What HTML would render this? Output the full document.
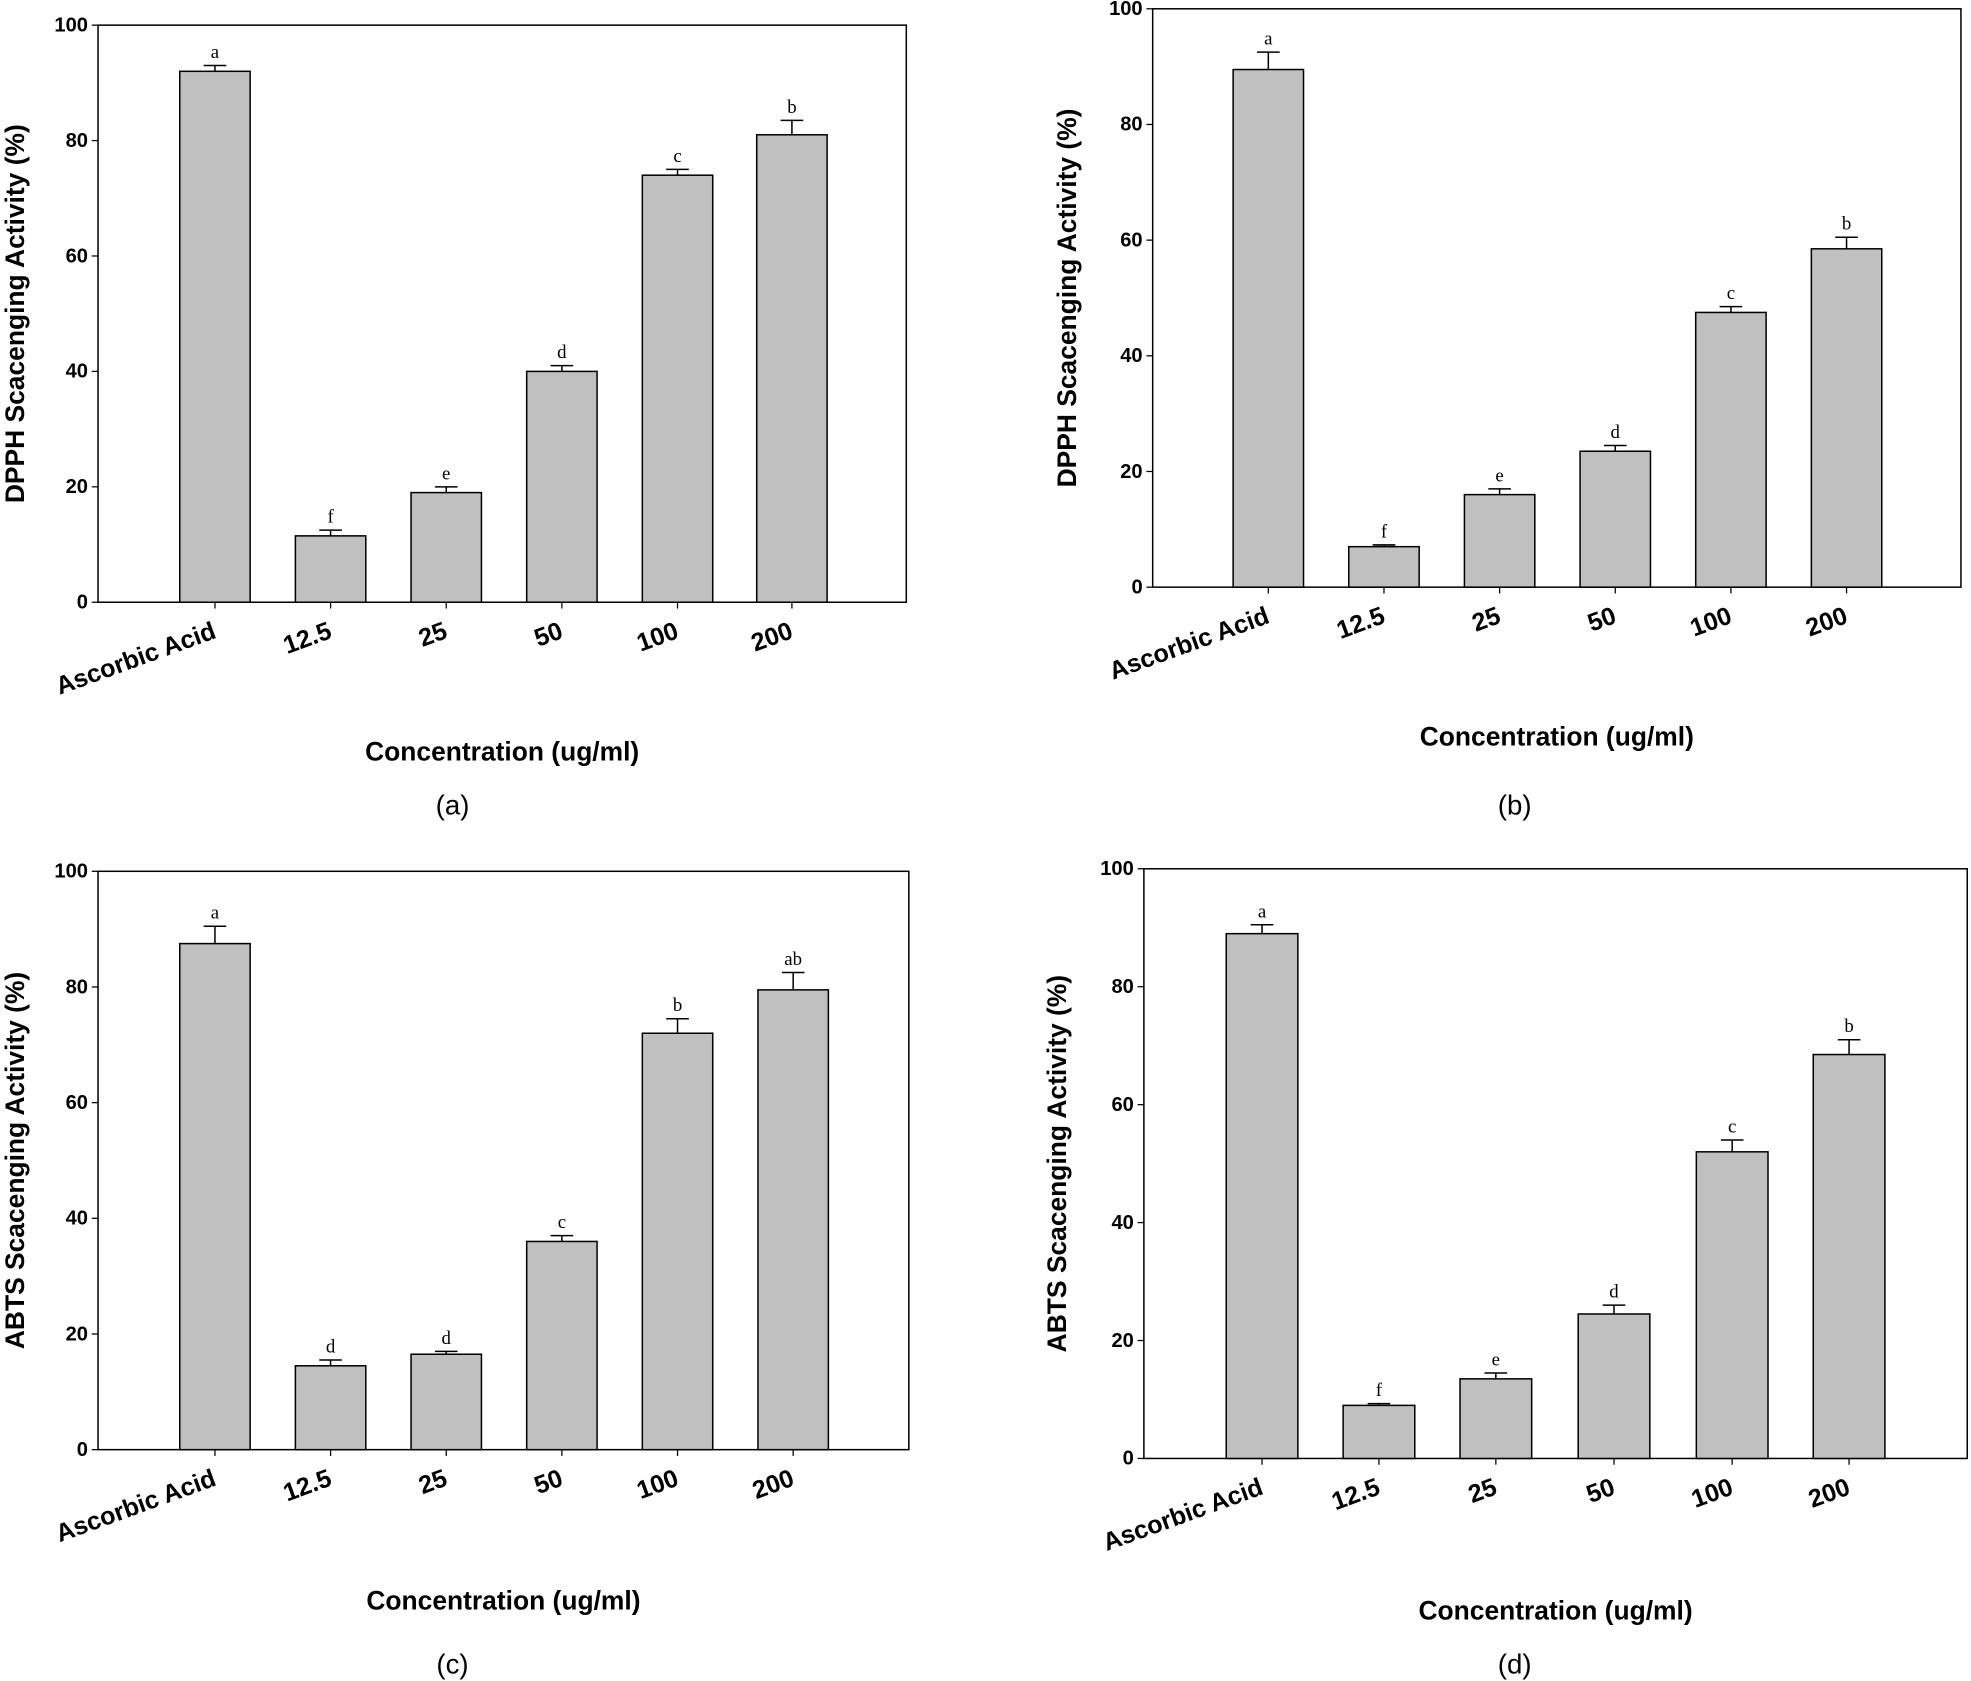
<!DOCTYPE html>
<html><head><meta charset="utf-8"><style>html,body{margin:0;padding:0;background:#fff}svg{display:block}</style></head>
<body>
<svg id="s" xmlns="http://www.w3.org/2000/svg" width="1971" height="1681" viewBox="0 0 1568 1337" preserveAspectRatio="none"></svg>
<script>
const S=document.getElementById('s');let h='';
const panels=[
 {x0:78,x1:721,y0:20,y1:479,c:[171,263,355,447,539,630],w:56,v:[92,11.5,19,40,74,81],e:[1,1,1,1,1,2.5],l:['a','f','e','d','c','b'],yl:'DPPH Scacenging Activity (%)',ylx:12,xt:598,cap:'(a)',cx:360,cy:640},
 {x0:917,x1:1560,y0:7,y1:467,c:[1009,1101,1193,1285,1377,1469],w:56,v:[89.5,7,16,23.5,47.5,58.5],e:[3,0.3,1,1,1,2],l:['a','f','e','d','c','b'],yl:'DPPH Scacenging Activity (%)',ylx:849,xt:586,cap:'(b)',cx:1205,cy:640},
 {x0:78,x1:723,y0:693,y1:1153,c:[171,263,355,447,539,631],w:56,v:[87.5,14.5,16.5,36,72,79.5],e:[3,1,0.5,1,2.5,3],l:['a','d','d','c','b','ab'],yl:'ABTS Scacenging Activity (%)',ylx:12,xt:1273,cap:'(c)',cx:360,cy:1323},
 {x0:910,x1:1565,y0:691,y1:1160,c:[1004,1097,1190,1284,1378,1471],w:57,v:[89,9,13.5,24.5,52,68.5],e:[1.5,0.3,1,1.5,2,2.5],l:['a','f','e','d','c','b'],yl:'ABTS Scacenging Activity (%)',ylx:841,xt:1281,cap:'(d)',cx:1205,cy:1323}
];
const xl=['Ascorbic Acid','12.5','25','50','100','200'];
for(const p of panels){
 const sc=(p.y1-p.y0)/100, Y=v=>p.y1-v*sc;
 h+=`<rect x="${p.x0}" y="${p.y0}" width="${p.x1-p.x0}" height="${p.y1-p.y0}" fill="none" stroke="#000" stroke-width="1.2"/>`;
 for(let t=0;t<=100;t+=20){const y=Y(t);h+=`<line x1="${p.x0-5}" x2="${p.x0}" y1="${y}" y2="${y}" stroke="#000"/><text x="${p.x0-8}" y="${y+5}" text-anchor="end" font-family="Liberation Sans,sans-serif" font-weight="bold" font-size="16">${t}</text>`;}
 p.c.forEach((c,i)=>{const top=Y(p.v[i]),et=Y(p.v[i]+p.e[i]);
  h+=`<rect x="${c-p.w/2}" y="${top}" width="${p.w}" height="${p.y1-top}" fill="#c0c0c0" stroke="#000" stroke-width="1.2"/>`;
  h+=`<line x1="${c}" x2="${c}" y1="${top}" y2="${et}" stroke="#000" stroke-width="1.2"/><line x1="${c-9}" x2="${c+9}" y1="${et}" y2="${et}" stroke="#000" stroke-width="1.2"/>`;
  h+=`<text x="${c}" y="${et-6}" text-anchor="middle" font-family="Liberation Serif,serif" font-size="15">${p.l[i]}</text>`;
  h+=`<line x1="${c}" x2="${c}" y1="${p.y1}" y2="${p.y1+5}" stroke="#000"/>`;
  h+=`<text transform="translate(${c+2},${p.y1+28}) rotate(-20)" text-anchor="end" font-family="Liberation Sans,sans-serif" font-weight="bold" font-size="20">${xl[i]}</text>`;
 });
 const my=(p.y0+p.y1)/2;
 h+=`<text transform="translate(${p.ylx},${my}) rotate(-90)" text-anchor="middle" dominant-baseline="central" font-family="Liberation Sans,sans-serif" font-weight="bold" font-size="21">${p.yl}</text>`;
 const mx=(p.x0+p.x1)/2;
 h+=`<text x="${mx}" y="${p.xt+7}" text-anchor="middle" font-family="Liberation Sans,sans-serif" font-weight="bold" font-size="21">Concentration (ug/ml)</text>`;
 h+=`<text x="${p.cx}" y="${p.cy+8}" text-anchor="middle" font-family="Liberation Sans,sans-serif" font-size="22">${p.cap}</text>`;
}
S.innerHTML=h;
</script>
</body></html>
